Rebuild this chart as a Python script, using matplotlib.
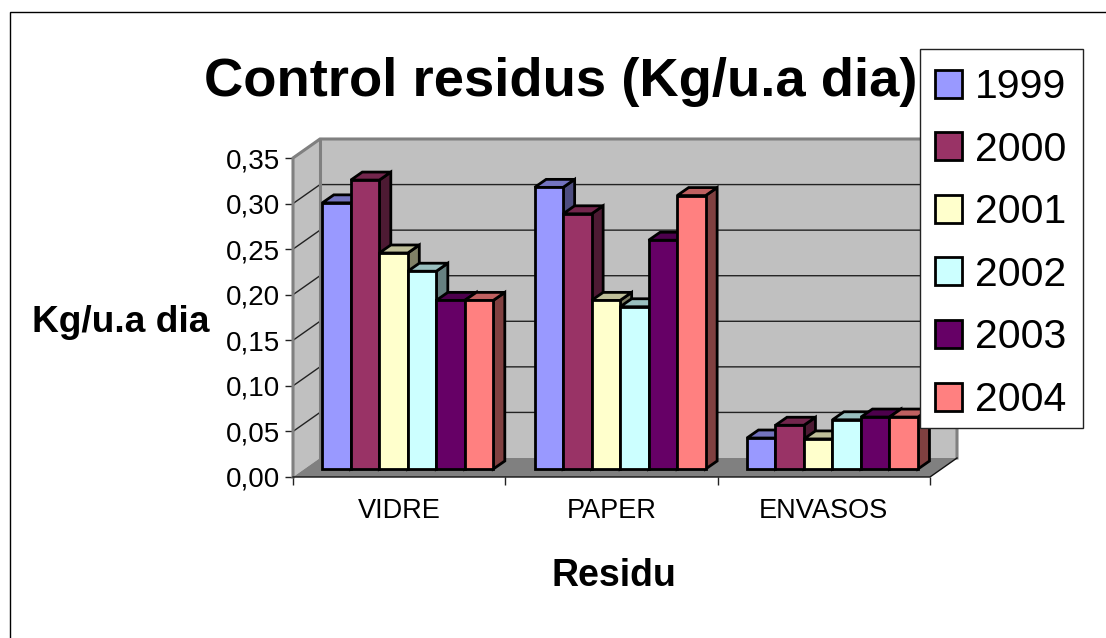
import matplotlib
matplotlib.use('Agg')
import matplotlib.pyplot as plt
from matplotlib.patches import Polygon, Patch, Rectangle

plt.rcParams['font.family'] = ['Liberation Sans', 'DejaVu Sans']

categories = ['VIDRE', 'PAPER', 'ENVASOS']
years = ['1999', '2000', '2001', '2002', '2003', '2004']
v1999 = [0.292, 0.309, 0.034]
v2000 = [0.317, 0.280, 0.048]
v2001 = [0.237, 0.185, 0.033]
v2002 = [0.217, 0.178, 0.054]
v2003 = [0.185, 0.251, 0.057]
v2004 = [0.185, 0.300, 0.057]
series = [v1999, v2000, v2001, v2002, v2003, v2004]
colors = ['#9999FF', '#993366', '#FFFFCC', '#CCFFFF', '#660066', '#FF8080']
y_ticks = [0, 0.05, 0.10, 0.15, 0.20, 0.25, 0.30, 0.35]
y_labels = ['0,00', '0,05', '0,10', '0,15', '0,20', '0,25', '0,30', '0,35']

W, H = 1106, 638
fig = plt.figure(figsize=(W / 100, H / 100), dpi=100)
fig.patch.set_facecolor('white')
ax = fig.add_axes([293 / W, 1 - 477 / H, (930 - 293) / W, (477 - 158) / H])
ax.set_xlim(0, 3)
ax.set_ylim(0, 0.35)
ax.patch.set_visible(False)
for s in ax.spines.values():
    s.set_visible(False)

# pixel sizes of the fake 3d depth, as data units
px_x = 3 / (930 - 293)
px_y = 0.35 / (477 - 158)
DX, DY = 27 * px_x, 19 * px_y        # depth of the box
BX, BY = 11.5 * px_x, 8 * px_y       # depth of one bar
SX, SY = 29.3 * px_x, 8 * px_y       # where the first bar starts
BW = 28.5 * px_x


def shade(c, f):
    c = matplotlib.colors.to_rgb(c)
    return tuple(i * f for i in c)


def face(pts, fc, ec='black', lw=0.0, z=1):
    ax.add_patch(Polygon(pts, closed=True, facecolor=fc, edgecolor=ec, linewidth=lw, zorder=z, clip_on=False))


# walls and floor
face([(0, 0), (DX, DY), (DX, 0.35 + DY), (0, 0.35)], '#C0C0C0', z=1)
face([(DX, DY), (3 + DX, DY), (3 + DX, 0.35 + DY), (DX, 0.35 + DY)], '#C0C0C0', z=1)
face([(0, 0), (3, 0), (3 + DX, DY), (DX, DY)], '#808080', z=1)

for t in y_ticks[1:]:
    ax.plot([0, DX, 3 + DX], [t, t + DY, t + DY], color='#222222', lw=1.0, zorder=2, clip_on=False)
ax.plot([0, 0, DX, 3 + DX, 3 + DX], [0, 0.35, 0.35 + DY, 0.35 + DY, DY], color='#808080', lw=2.2, zorder=2,
        clip_on=False, solid_joinstyle='miter')
ax.plot([DX, DX], [DY, 0.35 + DY], color='#808080', lw=2.2, zorder=2, clip_on=False)
ax.plot([0, 3, 3 + DX], [0, 0, DY], color='#111111', lw=1.0, zorder=2, clip_on=False)

# bars, left to right so the later ones cover the side of the earlier ones
z = 3
for i in range(len(categories)):
    for j in range(len(years)):
        val = series[j][i]
        col = colors[j]
        x0 = i + SX + j * BW
        x1 = x0 + BW
        top = SY + val
        face([(x1, SY), (x1 + BX, SY + BY), (x1 + BX, top + BY), (x1, top)], shade(col, 0.5), lw=2.0, z=z)
        face([(x0, top), (x1, top), (x1 + BX, top + BY), (x0 + BX, top + BY)], shade(col, 0.75), lw=2.0, z=z)
        ax.bar(x0, val, width=BW, bottom=SY, align='edge', color=col, edgecolor='black', linewidth=2.0,
               zorder=z, clip_on=False)
        z += 1

# axes text
ax.set_yticks(y_ticks)
ax.set_yticklabels(y_labels, fontsize=20)
ax.set_xticks([0, 1, 2, 3])
ax.set_xticklabels([])
ax.set_xticks([0.5, 1.5, 2.5], minor=True)
ax.set_xticklabels(categories, minor=True, fontsize=19.5)
ax.tick_params(axis='x', which='minor', length=0, pad=15)
ax.tick_params(axis='x', which='major', length=6, width=1, color='#222222')
ax.tick_params(axis='y', length=5.5, width=1, color='#222222', pad=4)

fig.text(561 / W, 1 - 96 / H, 'Control residus (Kg/u.a dia)', fontsize=39.2, fontweight='bold',
         ha='center', va='baseline')
fig.text(120.5 / W, 1 - 323 / H, 'Kg/u.a dia', fontsize=26.7, fontweight='bold', ha='center', va='center')
fig.text(613.5 / W, 1 - 576 / H, 'Residu', fontsize=27, fontweight='bold', ha='center', va='center')

# legend box drawn by hand, the entries are a frameless legend on top
fig.add_artist(Rectangle((920 / W, 1 - 428 / H), 163 / W, 379 / H, transform=fig.transFigure, facecolor='white',
                         edgecolor='#222222', linewidth=1.0, zorder=40))
handles = [Patch(facecolor=c, edgecolor='black', linewidth=2.0) for c in colors]
leg = fig.legend(handles, years, loc='center', bbox_to_anchor=(1000.5 / W, 1 - 243.5 / H), fontsize=29.5,
                 frameon=False, handlelength=0.67, handleheight=0.67,
                 handletextpad=0.30, labelspacing=0.60, borderpad=0, borderaxespad=0)
leg.set_zorder(50)

# outer chart frame
fig.add_artist(Rectangle((10 / W, -0.02), 1.2, 1 - 12 / H + 0.02, transform=fig.transFigure, fill=False,
                         edgecolor='black', linewidth=1.0, clip_on=True))

fig.savefig('out.png', dpi=100)
